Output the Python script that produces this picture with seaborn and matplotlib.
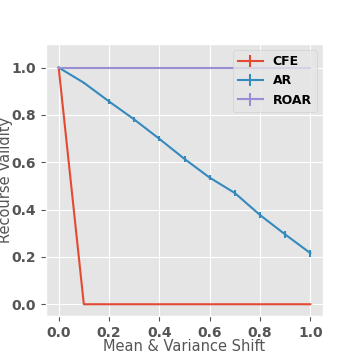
import matplotlib
matplotlib.use('Agg')
import matplotlib.pyplot as plt
import seaborn as sns
import numpy as np

plt.style.use('ggplot')

shift = [0.0, 0.1, 0.2, 0.3, 0.4, 0.5, 0.6, 0.7, 0.8, 0.9, 1.0]
cfe = [1.0, 0.0, 0.0, 0.0, 0.0, 0.0, 0.0, 0.0, 0.0, 0.0, 0.0]
cfe_err = [0.0] * 11
ar = [1.0, 0.936, 0.857, 0.781, 0.699, 0.614, 0.535, 0.470, 0.377, 0.295, 0.216]
ar_err = [0.0, 0.005, 0.012, 0.01, 0.01, 0.012, 0.01, 0.014, 0.013, 0.014, 0.015]
roar = [1.0] * 11
roar_err = [0.0] * 11

fig, ax = plt.subplots(figsize=(3.6, 3.6), dpi=100)
colors = sns.color_palette(['#E24A33', '#348ABD', '#988ED5'])
for name, vals, err, c in [('CFE', cfe, cfe_err, colors[0]),
                           ('AR', ar, ar_err, colors[1]),
                           ('ROAR', roar, roar_err, colors[2])]:
    ax.errorbar(shift, vals, yerr=err, label=name, color=c, lw=1.5)

ax.set_ylim(-0.05, 1.1)
ax.tick_params(labelsize=10)
ax.set_xlabel('Mean & Variance Shift', fontsize=10.5)
ax.set_ylabel('Recourse Validity', fontsize=10.5)
ax.xaxis.set_label_coords(0.5, -0.085)
ax.yaxis.set_label_coords(-0.119, 0.5)
for lbl in ax.get_xticklabels() + ax.get_yticklabels():
    lbl.set_fontweight('bold')
ax.legend(loc='upper right', prop={'weight': 'bold', 'size': 9})
plt.subplots_adjust(left=0.128, right=0.897, top=0.878, bottom=0.122)
plt.savefig('out.png', dpi=100)
